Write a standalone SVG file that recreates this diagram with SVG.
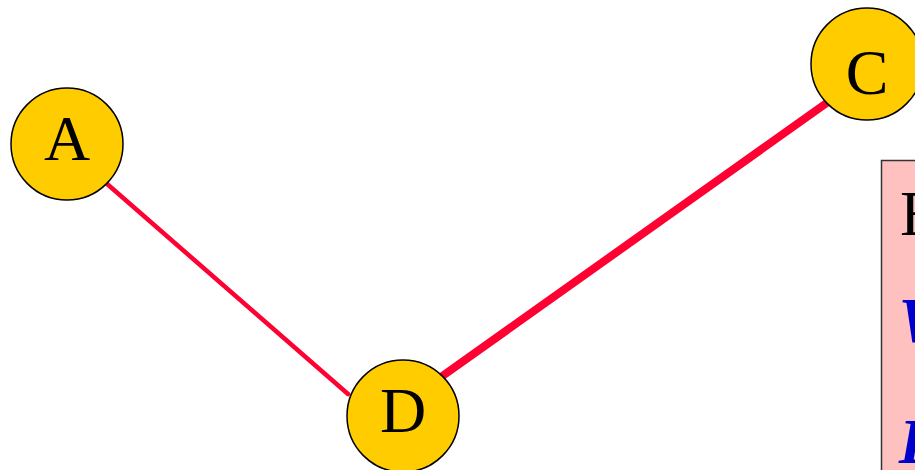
<svg xmlns="http://www.w3.org/2000/svg" width="915" height="470" viewBox="0 0 915 470">
<style>
.node circle{fill:#ffcc00;stroke:#000;stroke-width:1.5}
.node text{font-family:"Liberation Serif","Times New Roman",serif;font-size:64px;text-anchor:middle;fill:#000}
.edge{stroke:#ff0033;fill:none;stroke-linecap:round}
.lg{font-family:"Liberation Serif","Times New Roman",serif;font-size:64px}
.lgb{fill:#0000cc;font-weight:bold;font-style:italic}
</style>
<rect width="915" height="470" fill="#fff"/>
<g id="edges">
<line class="edge" x1="106" y1="183" x2="348" y2="394" stroke-width="4.5"/>
<line class="edge" x1="828" y1="102" x2="441" y2="377" stroke-width="8"/>
</g>
<g id="A" class="node"><circle cx="67" cy="144" r="56"/><text x="67" y="160">A</text></g>
<g id="C" class="node"><circle cx="867" cy="64" r="56"/><text x="867" y="94">C</text></g>
<g id="D" class="node"><circle cx="403" cy="416" r="56"/><text x="403" y="432">D</text></g>
<g id="legend">
<rect x="881.5" y="160.5" width="60" height="330" fill="#ffc0c0" stroke="#333" stroke-width="1.5"/>
<text class="lg" x="900" y="235">E</text>
<text class="lg lgb" x="898" y="342">W</text>
<text class="lg lgb" x="899" y="463">B</text>
</g>
</svg>
